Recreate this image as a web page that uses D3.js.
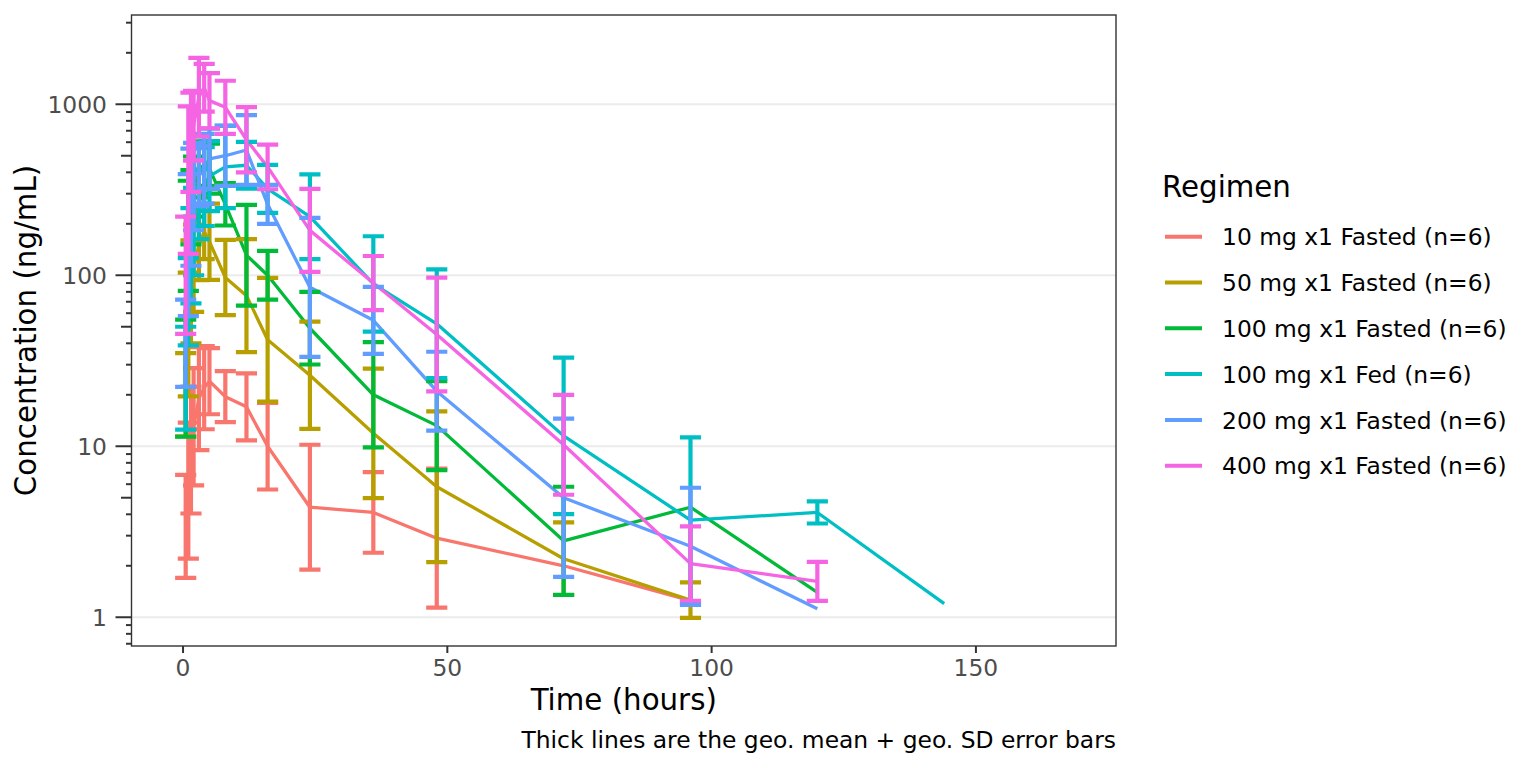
<!DOCTYPE html>
<html>
<head>
<meta charset="utf-8">
<script src="https://cdn.jsdelivr.net/npm/d3@7"></script>
<style>
  body { margin: 0; background: #fff; }
  text { font-family: "DejaVu Sans", sans-serif; }
</style>
</head>
<body>
<div id="chart"></div>
<script>
// sampling times (hours)
var times = [0.5, 1, 1.5, 2, 3, 4, 5, 8, 12, 16, 24, 36, 48, 72, 96, 120, 144];

// regimen labels + geo. means / geo. SD, one value per time (null = no data)
var regimens = ["10 mg x1 Fasted (n=6)", "50 mg x1 Fasted (n=6)", "100 mg x1 Fasted (n=6)",
                "100 mg x1 Fed (n=6)", "200 mg x1 Fasted (n=6)", "400 mg x1 Fasted (n=6)"];

var mean10 = [3.4, 5.5, 9.5, 13, 19, 22, 24, 19.5, 17, 10, 4.4, 4.1, 2.9, 2.0, 1.25, null, null];
var gsd10  = [2.0, 2.5, 2.35, 2.2, 2.0, 1.75, 1.56, 1.41, 1.57, 1.79, 2.32, 1.72, 2.55, null, null, null, null];

var mean50 = [20, 45, 80, 110, 150, 180, 157, 97, 76, 42, 26, 11.9, 5.8, 2.2, 1.26, null, null];
var gsd50  = [1.75, 2.3, 2.0, 1.8, 1.6, 1.45, 1.67, 1.66, 2.14, 2.3, 2.06, 2.39, 2.76, 1.63, 1.27, null, null];

var mean100 = [25, 170, 250, 330, 400, 450, 420, 260, 131, 100, 49, 20, 13.2, 2.8, 4.4, 1.4, null];
var gsd100  = [2.2, 2.1, 1.65, 1.5, 1.4, 1.35, 1.4, 1.33, 1.97, 1.39, 1.63, 2.03, 1.82, 2.07, null, null, null];

var mean100fed = [25, 70, 130, 180, 260, 330, 380, 430, 440, 320, 220, 89, 52, 11.5, 3.7, 4.1, 1.2];
var gsd100fed  = [2.0, 1.8, 1.9, 1.8, 1.6, 1.7, 1.6, 1.74, 1.37, 1.38, 1.77, 1.9, 2.08, 2.87, 3.05, 1.16, null];

var mean200 = [40, 150, 250, 330, 380, 420, 480, 500, 540, 260, 85, 54.5, 21, 5, 2.6, 1.12, null];
var gsd200  = [1.8, 2.6, 2.2, 1.8, 1.5, 1.6, 1.5, 1.5, 1.6, 1.3, 2.55, 1.57, 1.7, 2.9, 2.2, null, null];

var mean400 = [100, 360, 600, 750, 1100, 1250, 1050, 960, 620, 430, 183, 90, 45, 10.2, 2.06, 1.62, null];
var gsd400  = [2.2, 2.7, 1.95, 1.6, 1.7, 1.38, 1.45, 1.43, 1.55, 1.35, 1.75, 1.44, 2.15, 1.96, 1.65, 1.3, null];

var colors = ["#F8766D", "#B79F00", "#00BA38", "#00BFC4", "#619CFF", "#F564E3"];

var xTickValues = [0, 50, 100, 150];
var yTickValues = [1, 10, 100, 1000];

var allMeans = [mean10, mean50, mean100, mean100fed, mean200, mean400];
var allGsd = [gsd10, gsd50, gsd100, gsd100fed, gsd200, gsd400];

var series = regimens.map(function (name, i) {
    var pts = [];
    times.forEach(function (t, j) {
        var m = allMeans[i][j];
        if (m == null) return;
        var g = allGsd[i][j];
        pts.push({ time: t, mean: m, lo: g ? m / g : null, hi: g ? m * g : null });
    });
    return { name: name, color: colors[i], points: pts };
});

//Setup
var width = 1536, height = 768;
var panel = { left: 131.5, right: 1116, top: 15, bottom: 646 };
var barWidth = 4; // hours
var tickFont = 23.4, titleFont = 29.3;

var x = d3.scaleLinear().domain([-9.75, 176.5]).range([panel.left, panel.right]);
var y = d3.scaleLog().domain([0.679, 3327]).range([panel.bottom, panel.top]);

var svg = d3.select("#chart").append("svg")
    .attr("width", width)
    .attr("height", height);

svg.append("rect").attr("width", width).attr("height", height).attr("fill", "#fff");

// gridlines (y major only)
svg.append("g").selectAll("line")
    .data(yTickValues)
    .join("line")
    .attr("x1", panel.left).attr("x2", panel.right)
    .attr("y1", d => y(d)).attr("y2", d => y(d))
    .attr("stroke", "#EBEBEB")
    .attr("stroke-width", 2.2);

// clip to panel
svg.append("clipPath").attr("id", "clip")
    .append("rect")
    .attr("x", panel.left).attr("y", panel.top)
    .attr("width", panel.right - panel.left)
    .attr("height", panel.bottom - panel.top);

var plot = svg.append("g").attr("clip-path", "url(#clip)");

var line = d3.line()
    .x(d => x(d.time))
    .y(d => y(d.mean));

plot.append("g").selectAll("path")
    .data(series)
    .join("path")
    .attr("fill", "none")
    .attr("stroke", d => d.color)
    .attr("stroke-width", 3.3)
    .attr("stroke-linejoin", "round")
    .attr("d", d => line(d.points));

// error bars
series.forEach(function (s) {
    var bars = s.points.filter(p => p.lo != null);
    var g = plot.append("g")
        .attr("stroke", s.color)
        .attr("stroke-width", 4.2)
        .attr("fill", "none");
    bars.forEach(function (p) {
        var cx = x(p.time), x0 = x(p.time - barWidth / 2), x1 = x(p.time + barWidth / 2);
        var y0 = y(p.lo), y1 = y(p.hi);
        g.append("path")
            .attr("d", `M${x0},${y1}H${x1}M${cx},${y1}V${y0}M${x0},${y0}H${x1}`);
    });
});

// panel border
svg.append("rect")
    .attr("x", panel.left).attr("y", panel.top)
    .attr("width", panel.right - panel.left)
    .attr("height", panel.bottom - panel.top)
    .attr("fill", "none")
    .attr("stroke", "#333333")
    .attr("stroke-width", 1.4);

// y axis with log ticks
var yTicksAll = y.ticks(20).filter(d => d >= y.domain()[0] && d <= y.domain()[1]);
svg.append("g").selectAll("line")
    .data(yTicksAll)
    .join("line")
    .attr("x1", function (d) {
        var lead = Math.round(d / Math.pow(10, Math.floor(Math.log10(d) + 1e-9)));
        var len = lead === 1 ? 16 : (lead === 5 ? 10.5 : 5.5);
        return panel.left - len;
    })
    .attr("x2", panel.left)
    .attr("y1", d => y(d)).attr("y2", d => y(d))
    .attr("stroke", "#333333")
    .attr("stroke-width", 2);

svg.append("g").selectAll("text")
    .data(yTickValues)
    .join("text")
    .attr("x", 107)
    .attr("y", d => y(d) + 8.4)
    .attr("text-anchor", "end")
    .attr("font-size", tickFont)
    .attr("fill", "#4D4D4D")
    .text(d => d);

// x axis
svg.append("g").selectAll("line")
    .data(xTickValues)
    .join("line")
    .attr("x1", d => x(d)).attr("x2", d => x(d))
    .attr("y1", panel.bottom).attr("y2", panel.bottom + 7)
    .attr("stroke", "#333333")
    .attr("stroke-width", 2);

svg.append("g").selectAll("text")
    .data(xTickValues)
    .join("text")
    .attr("x", d => x(d))
    .attr("y", 676)
    .attr("text-anchor", "middle")
    .attr("font-size", tickFont)
    .attr("fill", "#4D4D4D")
    .text(d => d);

// axis titles
svg.append("text")
    .attr("x", (panel.left + panel.right) / 2)
    .attr("y", 710)
    .attr("text-anchor", "middle")
    .attr("font-size", titleFont)
    .attr("fill", "#000")
    .text("Time (hours)");

svg.append("text")
    .attr("transform", `translate(36, ${(panel.top + panel.bottom) / 2}) rotate(-90)`)
    .attr("text-anchor", "middle")
    .attr("font-size", titleFont)
    .attr("fill", "#000")
    .text("Concentration (ng/mL)");

// caption
svg.append("text")
    .attr("x", panel.right)
    .attr("y", 748)
    .attr("text-anchor", "end")
    .attr("font-size", tickFont)
    .attr("fill", "#000")
    .text("Thick lines are the geo. mean + geo. SD error bars");

// legend
var legend = svg.append("g");
legend.append("text")
    .attr("x", 1162)
    .attr("y", 196.5)
    .attr("font-size", titleFont)
    .attr("fill", "#000")
    .text("Regimen");

var rows = legend.selectAll("g.row")
    .data(series)
    .join("g")
    .attr("class", "row")
    .attr("transform", (d, i) => `translate(0, ${236.7 + i * 45.8})`);

rows.append("line")
    .attr("x1", 1165).attr("x2", 1202)
    .attr("y1", 0).attr("y2", 0)
    .attr("stroke", d => d.color)
    .attr("stroke-width", 4);

rows.append("text")
    .attr("x", 1222)
    .attr("y", 8.6)
    .attr("font-size", tickFont)
    .attr("fill", "#000")
    .text(d => d.name);
</script>
</body>
</html>
